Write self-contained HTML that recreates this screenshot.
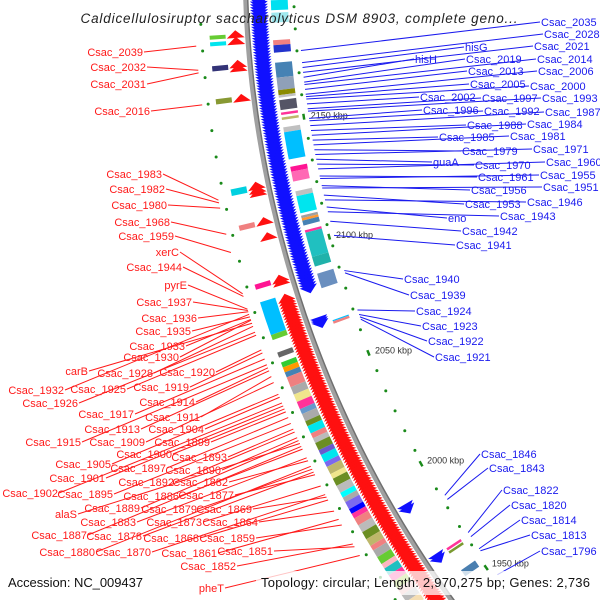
<!DOCTYPE html>
<html><head><meta charset="utf-8"><style>
html,body{margin:0;padding:0;background:#fff;overflow:hidden;}
svg{display:block;font-family:"Liberation Sans",sans-serif;overflow:hidden;}
</style></head><body>
<svg id="map" xmlns="http://www.w3.org/2000/svg" width="600" height="600" viewBox="0 0 600 600">
<defs><clipPath id="frame"><rect x="0" y="0" width="600" height="600"/></clipPath></defs>
<rect width="600" height="600" fill="#fff"/>
<g id="gMain" clip-path="url(#frame)"></g>
<text x="299" y="23" text-anchor="middle" font-size="13.5" font-style="italic" fill="#222" textLength="437">Caldicellulosiruptor saccharolyticus DSM 8903, complete geno...</text>
<rect x="3" y="571" width="146" height="24" fill="#fff" fill-opacity="0.75"/>
<rect x="256" y="571" width="340" height="24" fill="#fff" fill-opacity="0.75"/>
<text x="8" y="587" font-size="13" fill="#111" textLength="135">Accession: NC_009437</text>
<text x="261" y="587" font-size="13" fill="#111" textLength="329">Topology: circular; Length: 2,970,275 bp; Genes: 2,736</text>
</svg>
<script>
const tickKbp=[2150,2100,2050,2000,1950];
const tickLabels=["2150 kbp","2100 kbp","2050 kbp","2000 kbp","1950 kbp"];
const fwdBlocks=[[1945,2081]];
const revBlocks=[[2083,2200]];
const fwdSparse=[2184,2181.4,2172.5,2171,2159.3,2125,2123.5,2122.3,2111,2105,2088,2086.8];
const revSparse=[2070.5,2069.7,2068.9,1989,1987.8,1966,1964.8];
const cogInStart=[2198,2193,2182,2180,2173,2167,2162,2160,2158,2153,2151,2147,2145,2131,2129,2121,2119,2111,2110,2109,2105,2104,2094,2087,2067.5,2067,1965.5,1964,1955];
const cogInEnd=[2194,2189,2180,2177,2167,2162,2160,2159,2154,2152,2150,2145,2134,2129,2125,2119,2112,2110,2109,2107,2104,2094,2090,2081,2067,2066,1964.5,1963,1952];
const cogInColor=["#00e0f0","#9fe8ee","#f08080","#2233cc","#4682b4","#8fa0b8","#8b8b00","#c0c0c0","#555566","#ff3399","#bdb76b","#c0c0c0","#00bfff","#ff1493","#ff69b4","#c0c0c0","#00e5ee","#a0a0a0","#ff9933","#4682b4","#ff3399","#20c0c0","#20b2aa","#6a8fbf","#00bfff","#f08080","#ff3399","#7a9a30","#4a7fb0"];
const cogOutStart=[2185.5,2183,2174,2161.5,2127,2113,2090,2083,2070,2063,2059,2057,2055,2053,2049,2046,2043,2040,2038,2035,2033,2030,2028,2026,2023,2021,2018,2016,2013,2011,2008,2005,2003,2001,1998,1996,1994,1991,1988,1985,1982,1980,1977,1974,1972,1969,1966,1963,1960,1957];
const cogOutEnd=[2184,2181.5,2172,2159.5,2124.5,2111,2088,2070,2068,2061,2057,2055,2053,2049,2046,2043,2040,2038,2035,2033,2030,2028,2026,2023,2021,2018,2016,2013,2011,2008,2005,2003,2001,1998,1996,1994,1991,1988,1985,1982,1980,1977,1974,1972,1969,1966,1963,1960,1957,1954];
const cogOutColor=["#66cc33","#00e5ee","#333377","#889933","#00d0e0","#f08080","#ff1493","#00bfff","#66cc33","#666666","#33cc33","#ff9900","#4682b4","#f08080","#aaaaaa","#f0e68c","#ff3399","#6699cc","#aaaaaa","#6b8e23","#00e5ee","#f08080","#bbbbbb","#6b8e23","#6a5acd","#00e5ee","#7b68ee","#bdb76b","#f0e68c","#6b8e23","#bbbbbb","#00ffff","#aaaaaa","#7b68ee","#0000ff","#ff3399","#f08080","#bbbbbb","#6b8e23","#bdb76b","#f08080","#aaaaaa","#66cc33","#ffb6c1","#20c0c0","#ff3399","#9acd32","#f0b0b0","#bbbbbb","#f5deb3"];
const greenIn=[2195,2186,2177,2168,2159,2141,2132,2123,2114,2105,2096,2087,2078,2069,2060,2042,2033,2024,2015,2006,1988,1979,1970,1961];
const greenOut=[2190,2180,2170,2160,2150,2140,2130,2120,2110,2100,2090,2080,2070,2060,2050,2040,2030,2020,2010,2000,1990,1980,1970,1960];
const blueNames=["Csac_2035","Csac_2028","hisG","Csac_2021","hisH","Csac_2019","Csac_2014","Csac_2013","Csac_2006","Csac_2005","Csac_2000","Csac_2002","Csac_1997","Csac_1993","Csac_1996","Csac_1992","Csac_1987","Csac_1988","Csac_1984","Csac_1985","Csac_1981","Csac_1979","Csac_1971","guaA","Csac_1970","Csac_1960","Csac_1961","Csac_1955","Csac_1956","Csac_1951","Csac_1953","Csac_1946","eno","Csac_1943","Csac_1942","Csac_1941","Csac_1940","Csac_1939","Csac_1924","Csac_1923","Csac_1922","Csac_1921","Csac_1846","Csac_1843","Csac_1822","Csac_1820","Csac_1814","Csac_1813","Csac_1796"];
const blueKbp=[2177,2172,2170,2168,2166,2164,2163,2161,2159,2158,2157,2155,2153,2152,2149,2148,2146,2144,2142,2140,2138,2136,2134,2132,2130,2128,2125,2124,2121,2120,2117,2115,2112,2110,2106,2100,2085,2084,2068,2066,2065,2064,1984,1982,1966,1964,1958,1957,1945];
const blueLabelX=[541,544,465,534,415,466,537,468,538,470,530,420,482,542,423,484,545,467,527,439,510,462,533,433,475,546,478,540,471,543,465,527,448,500,462,456,404,410,416,422,428,435,481,489,503,511,521,531,541];
const blueLabelY=[26,38,51,50,63,63,63,75,75,88,90,101,102,102,114,115,116,129,128,141,140,155,153,166,169,166,181,179,194,191,208,206,222,220,235,249,283,299,315,330,345,361,458,472,494,509,524,539,555];
const redNames=["Csac_2039","Csac_2032","Csac_2031","Csac_2016","Csac_1983","Csac_1982","Csac_1980","Csac_1968","Csac_1959","xerC","Csac_1944","pyrE","Csac_1937","Csac_1936","Csac_1935","Csac_1933","Csac_1930","carB","Csac_1928","Csac_1920","Csac_1932","Csac_1925","Csac_1919","Csac_1926","Csac_1914","Csac_1917","Csac_1911","Csac_1913","Csac_1904","Csac_1915","Csac_1909","Csac_1899","Csac_1900","Csac_1893","Csac_1905","Csac_1897","Csac_1890","Csac_1901","Csac_1892","Csac_1882","Csac_1902","Csac_1895","Csac_1886","Csac_1877","alaS","Csac_1889","Csac_1879","Csac_1869","Csac_1883","Csac_1873","Csac_1864","Csac_1887","Csac_1878","Csac_1868","Csac_1859","Csac_1880","Csac_1870","Csac_1861","Csac_1851","Csac_1852","pheT"];
const redKbp=[2182,2173,2172,2160,2124,2123,2121,2111,2104,2088,2087,2082,2081.5,2081,2079,2078,2077.7,2076.5,2075.3,2066,2080,2071.8,2064.8,2073,2058.9,2062.4,2055.4,2057.7,2047.1,2060.1,2053,2041.2,2042.4,2034.2,2048.3,2038.9,2030.7,2043.6,2033,2021.2,2044.8,2036.5,2026,2015.4,2028.3,2029.5,2017.7,2006,2022.4,2010.7,2000.1,2027.1,2016.5,2004.8,1994.2,2018.9,2007.1,1996.6,1984.8,1986,1981];
const redLabelX=[143,146,146,150,162,165,167,170,174,179,182,187,192,197,191,185,179,88,153,215,64,126,189,78,195,134,200,140,204,81,145,210,172,227,111,166,221,105,174,228,58,113,179,234,77,140,197,252,136,202,258,87,142,199,255,95,151,217,273,236,224];
const redLabelY=[56,71,88,115,178,193,209,226,240,256,271,289,306,322,335,350,361,375,377,376,394,393,391,407,406,418,421,433,433,446,446,446,458,461,468,472,474,482,486,486,497,498,500,499,518,512,513,513,526,526,526,539,540,542,542,556,556,557,555,570,592];

const NS="http://www.w3.org/2000/svg";
const CX=1340, CY=-40, R=1095, DEG0=171.4, DPK=0.1342;
const g=document.getElementById('gMain');
function P(k,r){const t=(DEG0+(k-2150)*DPK)*Math.PI/180;return [CX+r*Math.cos(t),CY+r*Math.sin(t)];}
function el(tag){const e=document.createElementNS(NS,tag);g.appendChild(e);return e;}
function pts(a){return a.map(p=>p[0].toFixed(1)+','+p[1].toFixed(1)).join(' ');}
function band(k1,k2,r1,r2){const n=Math.max(2,Math.ceil(Math.abs(k2-k1)/2));const a=[];for(let i=0;i<=n;i++)a.push(P(k1+(k2-k1)*i/n,r2));for(let i=n;i>=0;i--)a.push(P(k1+(k2-k1)*i/n,r1));return pts(a);}
function arrowPts(k,dir,r1,r2,len){return pts([P(k,r1),P(k,r2),P(k+dir*len,(r1+r2)/2)]);}

// backbone
{const a=[];for(let k=1935;k<=2210;k+=3)a.push(P(k,R));
const b=el('polyline');b.setAttribute('points',pts(a));b.setAttribute('fill','none');b.setAttribute('stroke','#a0a0a0');b.setAttribute('stroke-width','5');


const c=el('polyline');c.setAttribute('points',pts(a.map((p,i)=>P(1935+3*i,R-2))));c.setAttribute('fill','none');c.setAttribute('stroke','#707070');c.setAttribute('stroke-width','1.5');

}

// COG rings
cogInStart.forEach((s,i)=>{const p=el('polygon');p.setAttribute('points',band(s,cogInEnd[i],R-42,R-25));p.setAttribute('fill',cogInColor[i]);

});
cogOutStart.forEach((s,i)=>{const p=el('polygon');p.setAttribute('points',band(s,cogOutEnd[i],R+22,R+38));p.setAttribute('fill',cogOutColor[i]);

});

// genes
const geneStep=1.1, arrowLen=3;
function fwd(k){const p=el('polygon');p.setAttribute('points',arrowPts(k,1,R+3,R+21,arrowLen));p.setAttribute('fill','#ff1010');

}
function rev(k){const p=el('polygon');p.setAttribute('points',arrowPts(k,-1,R-4,R-22,arrowLen));p.setAttribute('fill','#1010ff');

}
fwdBlocks.forEach(b=>{for(let k=b[0];k<=b[1];k+=geneStep)fwd(k);});
revBlocks.forEach(b=>{for(let k=b[1];k>=b[0];k-=geneStep)rev(k);});
fwdSparse.forEach(fwd);
revSparse.forEach(rev);

// GC dots
greenIn.forEach(k=>{const [x,y]=P(k,R-48);const c=el('circle');c.setAttribute('cx',x);c.setAttribute('cy',y);c.setAttribute('r','1.5');c.setAttribute('fill','#1a8a1a');

});
greenOut.forEach(k=>{const [x,y]=P(k,R+46);const c=el('circle');c.setAttribute('cx',x);c.setAttribute('cy',y);c.setAttribute('r','1.5');c.setAttribute('fill','#1a8a1a');

});

// ticks
tickKbp.forEach((k,i)=>{const a=P(k+1.2,R-47),b=P(k-1.2,R-47);const l=el('line');l.setAttribute('x1',a[0]);l.setAttribute('y1',a[1]);l.setAttribute('x2',b[0]);l.setAttribute('y2',b[1]);l.setAttribute('stroke','#1a8a1a');l.setAttribute('stroke-width','2.5');


const [x,y]=P(k,R-54);const t=el('text');t.setAttribute('x',x);t.setAttribute('y',y+3);t.setAttribute('font-size','9');t.setAttribute('fill','#333');t.textContent=tickLabels[i];

});

// labels
blueNames.forEach((n,i)=>{const [ex,ey]=P(blueKbp[i],R-52);const l=el('line');l.setAttribute('x1',blueLabelX[i]-1);l.setAttribute('y1',blueLabelY[i]-4);l.setAttribute('x2',ex);l.setAttribute('y2',ey);l.setAttribute('stroke','#1a1aee');l.setAttribute('stroke-width','1');


const t=el('text');t.setAttribute('x',blueLabelX[i]);t.setAttribute('y',blueLabelY[i]);t.setAttribute('font-size','11');t.setAttribute('fill','#1a1aee');t.textContent=n;

});
redNames.forEach((n,i)=>{const [ex,ey]=P(redKbp[i],R+52);const l=el('line');l.setAttribute('x1',redLabelX[i]+1);l.setAttribute('y1',redLabelY[i]-4);l.setAttribute('x2',ex);l.setAttribute('y2',ey);l.setAttribute('stroke','#ff1a1a');l.setAttribute('stroke-width','1');


const t=el('text');t.setAttribute('x',redLabelX[i]);t.setAttribute('y',redLabelY[i]);t.setAttribute('font-size','11');t.setAttribute('text-anchor','end');t.setAttribute('fill','#ff1a1a');t.textContent=n;

});
</script>
</body></html>
